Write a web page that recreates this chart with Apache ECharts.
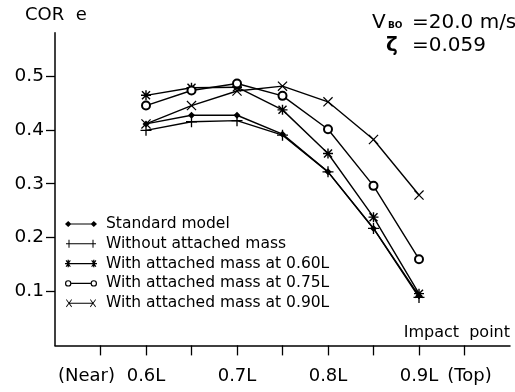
<!DOCTYPE html>
<html>
<head>
<meta charset="utf-8">
<script src="https://cdn.jsdelivr.net/npm/echarts@6/dist/echarts.min.js"></script>
<style>html,body{margin:0;padding:0;background:#fff}#c{width:515px;height:392px}</style>
</head>
<body>
<div id="c"></div>
<script>
// ---- data ----
const impactPoints = [0.6, 0.65, 0.7, 0.75, 0.8, 0.85, 0.9];
const seriesNames = [
  'Standard model',
  'Without attached mass',
  'With attached mass at 0.60L',
  'With attached mass at 0.75L',
  'With attached mass at 0.90L'
];
const standardModel = [0.411, 0.427, 0.427, 0.392, 0.322, 0.217, 0.092];
const withoutMass   = [0.399, 0.415, 0.417, 0.390, 0.322, 0.217, 0.089];
const mass060       = [0.464, 0.478, 0.479, 0.437, 0.356, 0.238, 0.096];
const mass075       = [0.445, 0.473, 0.486, 0.463, 0.401, 0.296, 0.160];
const mass090       = [0.411, 0.445, 0.472, 0.481, 0.452, 0.382, 0.279];
const yTickValues = [0.1, 0.2, 0.3, 0.4, 0.5];
const xTickValues = [0.55, 0.6, 0.65, 0.7, 0.75, 0.8, 0.85, 0.9, 0.95];
const xLabelValues = [0.55, 0.6, 0.7, 0.8, 0.9, 0.95];
const xLabelTexts = ['(Near)', '0.6L', '0.7L', '0.8L', '0.9L', '(Top)'];

// ---- styling ----
const FONT = 'DejaVu Sans';
const symPlus = 'path://M4.4,0h1.2v10h-1.2zM0,4.4h10v1.2h-10z';
const symX = 'path://M0,0.85L0.85,0L10,9.15L9.15,10ZM9.15,0L10,0.85L0.85,10L0,9.15Z';
const symStar = 'path://M4.3,0h1.4v10h-1.4zM0,4.3h10v1.4h-10zM0.5,1.5L1.5,0.5L9.5,8.5L8.5,9.5ZM8.5,0.5L9.5,1.5L1.5,9.5L0.5,8.5Z';

// legend icons (line with a marker at both ends), 30 x 8 box
const lgDiamond = 'path://M0,4L3,1.2L6,4L3,6.8ZM24,4L27,1.2L30,4L27,6.8ZM3,3.5h24v1h-24z';
const lgPlus = 'path://M0,3.5h30v1h-30zM2.5,0h1v8h-1zM26.5,0h1v8h-1z';
const lgStar = 'path://M0,3.4h30v1.2h-30zM2.4,0.5h1.2v7h-1.2zM26.4,0.5h1.2v7h-1.2zM0.6,1.3L1.4,0.7L5.4,6.7L4.6,7.3ZM4.6,0.7L5.4,1.3L1.4,7.3L0.6,6.7ZM24.6,1.3L25.4,0.7L29.4,6.7L28.6,7.3ZM28.6,0.7L29.4,1.3L25.4,7.3L24.6,6.7Z';
const lgCircle = 'path://M0,4a3,3 0 1,0 6,0a3,3 0 1,0 -6,0ZM1.1,4a1.9,1.9 0 1,1 3.8,0a1.9,1.9 0 1,1 -3.8,0ZM24,4a3,3 0 1,0 6,0a3,3 0 1,0 -6,0ZM25.1,4a1.9,1.9 0 1,1 3.8,0a1.9,1.9 0 1,1 -3.8,0ZM6,3.5h18v1h-18z';
const lgX = 'path://M0,0.6L0.6,0L6,7.4L5.4,8ZM5.4,0L6,0.6L0.6,8L0,7.4ZM24,0.6L24.6,0L30,7.4L29.4,8ZM29.4,0L30,0.6L24.6,8L24,7.4ZM3,3.5h24v1h-24z';

const allValues = [standardModel, withoutMass, mass060, mass075, mass090];
const symbols = ['diamond', symPlus, symStar, 'emptyCircle', symX];
const symbolSizes = [7, 11, 10, 8, 10];
const legendIcons = [lgDiamond, lgPlus, lgStar, lgCircle, lgX];

const series = seriesNames.map((name, i) => ({
  name: name,
  type: 'line',
  data: impactPoints.map((x, j) => [x, allValues[i][j]]),
  symbol: symbols[i],
  symbolSize: symbolSizes[i],
  showAllSymbol: true,
  animation: false,
  lineStyle: { color: '#000', width: 1.4 },
  itemStyle: symbols[i] === 'emptyCircle'
    ? { color: '#000', borderColor: '#000', borderWidth: 1.5 }
    : { color: '#000', borderWidth: 0 },
  z: 2
}));

const chart = echarts.init(document.getElementById('c'), null, { renderer: 'canvas' });
chart.setOption({
  backgroundColor: '#fff',
  animation: false,
  grid: { left: 55, right: 5, top: 32.8, bottom: 46.6, containLabel: false },
  xAxis: {
    type: 'value',
    min: 0.5,
    max: 1.0,
    axisLine: { lineStyle: { color: '#000', width: 1.5 } },
    axisTick: { show: true, length: 10, customValues: xTickValues, lineStyle: { color: '#000', width: 1.3 } },
    splitLine: { show: false },
    axisLabel: {
      customValues: xLabelValues,
      margin: 22,
      color: '#000',
      fontFamily: FONT,
      fontSize: 18,
      formatter: function (v) {
        const idx = xLabelValues.findIndex(t => Math.abs(t - v) < 1e-6);
        if (idx === 0) return '{near|' + xLabelTexts[idx] + '}';
        if (idx === xLabelTexts.length - 1) return '{top|' + xLabelTexts[idx] + '}';
        return idx >= 0 ? xLabelTexts[idx] : '';
      },
      rich: {
        near: { fontFamily: FONT, fontSize: 18, color: '#000', padding: [0, 28, 0, 0] },
        top: { fontFamily: FONT, fontSize: 18, color: '#000', padding: [0, 0, 0, 10] }
      }
    }
  },
  yAxis: {
    type: 'value',
    min: 0,
    max: 0.58,
    interval: 0.1,
    axisLine: { show: true, lineStyle: { color: '#000', width: 1.5 } },
    axisTick: { show: true, length: 9, customValues: yTickValues, lineStyle: { color: '#000', width: 1.3 } },
    splitLine: { show: false },
    axisLabel: {
      customValues: yTickValues,
      margin: 11,
      color: '#000',
      fontFamily: FONT,
      fontSize: 18.5,
      formatter: v => v.toFixed(1)
    }
  },
  legend: {
    orient: 'vertical',
    left: 65,
    top: 216,
    itemWidth: 32,
    itemHeight: 8,
    itemGap: 3.8,
    padding: 0,
    selectedMode: false,
    textStyle: { color: '#000', fontFamily: FONT, fontSize: 15.5, padding: [0, 0, 0, 4] },
    data: seriesNames.map((n, i) => ({
      name: n,
      icon: legendIcons[i],
      itemStyle: { color: '#000', borderWidth: 0 }
    }))
  },
  graphic: [
    { type: 'text', left: 25, top: 6, style: { text: 'COR  e', fontFamily: FONT, fontSize: 18, fill: '#000' } },
    { type: 'text', right: 5, top: 325, style: { text: 'Impact  point', fontFamily: FONT, fontSize: 16, fill: '#000' } },
    { type: 'text', left: 372, top: 13, style: { text: 'V', fontFamily: FONT, fontSize: 20, fill: '#000' } },
    { type: 'text', left: 388, top: 21, style: { text: 'BO', fontFamily: FONT, fontSize: 9, fontWeight: 'bold', fill: '#000' } },
    { type: 'text', left: 412, top: 13, style: { text: '=20.0 m/s', fontFamily: FONT, fontSize: 20, fill: '#000' } },
    { type: 'text', left: 386, top: 36, style: { text: 'ζ', fontFamily: FONT, fontSize: 20, fontWeight: 'bold', fill: '#000' } },
    { type: 'text', left: 412, top: 36, style: { text: '=0.059', fontFamily: FONT, fontSize: 20, fill: '#000' } }
  ],
  series: series
});
</script>
</body>
</html>
